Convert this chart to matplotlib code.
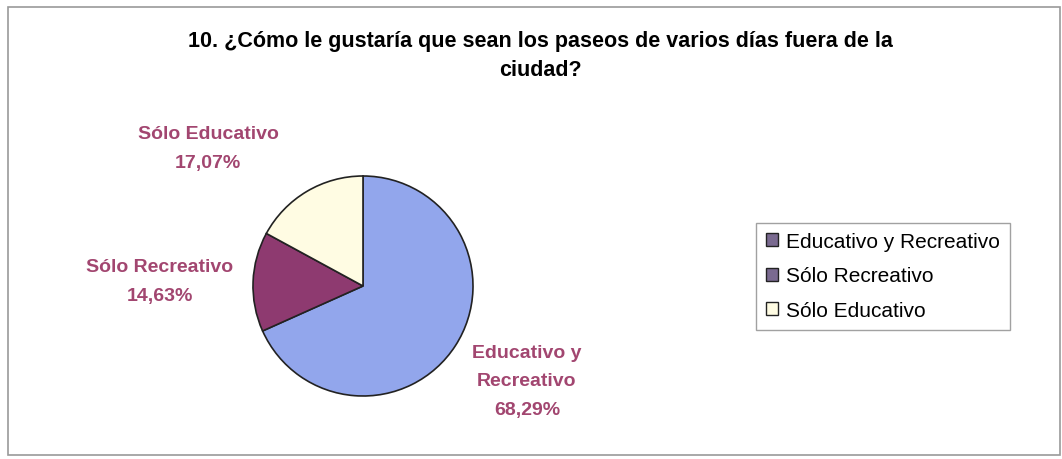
import matplotlib.pyplot as plt
from matplotlib.patches import Rectangle, Patch

plt.rcParams['font.family'] = ['Liberation Sans', 'DejaVu Sans']

# survey answers, question 10
categories = ['Educativo y Recreativo', 'Sólo Recreativo', 'Sólo Educativo']
shares = [68.29, 14.63, 17.07]
slice_colors = ['#92A6EC', '#8E3A70', '#FFFCE3']
legend_colors = ['#7A6A90', '#7A6A90', '#FFFCE3']
label_lines = [['Educativo y', 'Recreativo'], ['Sólo Recreativo'], ['Sólo Educativo']]
title = '10. ¿Cómo le gustaría que sean los paseos de varios días fuera de la\nciudad?'

W, H = 1062, 460
fig = plt.figure(figsize=(W / 100, H / 100), dpi=100)

# chart border
fig.patches.append(Rectangle((8 / W, 4 / H), 1052 / W, 448 / H, transform=fig.transFigure,
                             fill=False, edgecolor='#9a9a9a', linewidth=1.2))

fig.text(540 / W, 1 - 56 / H, title, ha='center', va='center', fontsize=15.5,
         fontweight='bold', linespacing=1.5)

cx, cy, r = 363, 287, 110
ax = fig.add_axes([(cx - r) / W, (H - cy - r) / H, 2 * r / W, 2 * r / H])
ax.pie(shares, colors=slice_colors, startangle=90, counterclock=False,
       wedgeprops=dict(edgecolor='#222222', linewidth=1.2))
ax.set_xlim(-1, 1)
ax.set_ylim(-1, 1)
ax.set_aspect('auto')
ax.axis('off')

# data labels, placed the way the spreadsheet put them
label_pos = [(527, 382), (160, 282), (208, 149)]
for lines, v, (lx, ly) in zip(label_lines, shares, label_pos):
    txt = '\n'.join(lines + [f'{v:.2f}'.replace('.', ',') + '%'])
    fig.text(lx / W, 1 - ly / H, txt, ha='center', va='center', fontsize=14,
             fontweight='bold', color='#A24670', linespacing=1.9)

handles = [Patch(facecolor=c, edgecolor='#222222', linewidth=1) for c in legend_colors]
leg = fig.legend(handles, categories, loc='center', bbox_to_anchor=(883 / W, 1 - 277 / H),
                 fontsize=15, frameon=True, fancybox=False, handlelength=0.6,
                 handleheight=0.6, handletextpad=0.4, labelspacing=0.75, borderpad=0.45,
                 borderaxespad=0)
leg.get_frame().set_edgecolor('#8a8a8a')
leg.get_frame().set_linewidth(1)

fig.savefig('out.png', dpi=100)
